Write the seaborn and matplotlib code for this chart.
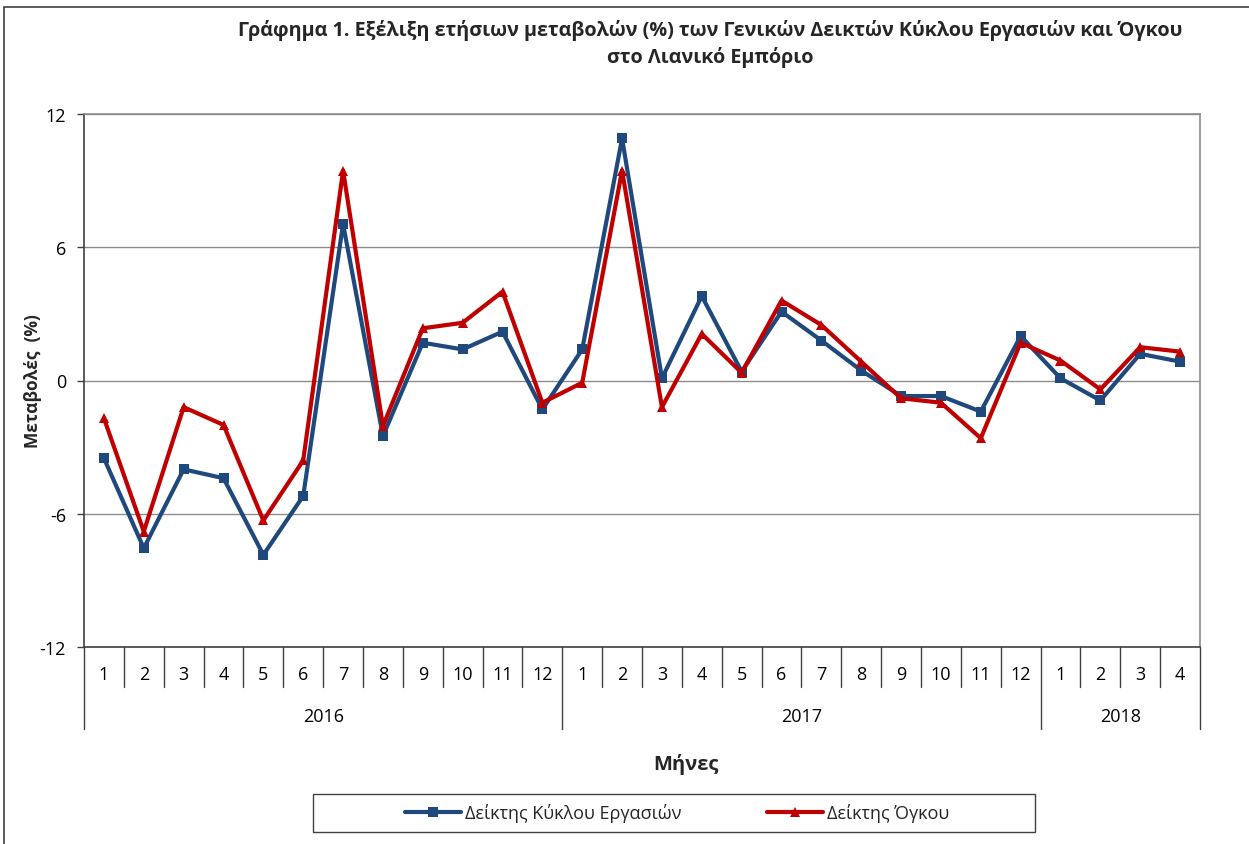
import numpy as np
import pandas as pd
import matplotlib
matplotlib.use("Agg")
import matplotlib.pyplot as plt
import seaborn as sns
from matplotlib.lines import Line2D
from matplotlib.patches import Rectangle

# ---------------- data ----------------
months = [1, 2, 3, 4, 5, 6, 7, 8, 9, 10, 11, 12,
          1, 2, 3, 4, 5, 6, 7, 8, 9, 10, 11, 12,
          1, 2, 3, 4]
years = ["2016", "2017", "2018"]
year_lengths = [12, 12, 4]
series_names = ["Δείκτης Κύκλου Εργασιών", "Δείκτης Όγκου"]
turnover = [-3.5, -7.55, -4.0, -4.4, -7.85, -5.2, 7.05, -2.5, 1.7, 1.4, 2.2, -1.3,
            1.4, 10.9, 0.1, 3.8, 0.4, 3.1, 1.8, 0.45, -0.7, -0.7, -1.4, 2.0,
            0.1, -0.9, 1.2, 0.85]
volume = [-1.7, -6.8, -1.2, -2.0, -6.3, -3.6, 9.45, -2.05, 2.35, 2.6, 4.0, -1.0,
          -0.1, 9.45, -1.2, 2.1, 0.35, 3.6, 2.5, 0.85, -0.8, -1.0, -2.6, 1.7,
          0.9, -0.4, 1.5, 1.3]
y_ticks = [-12, -6, 0, 6, 12]

title_text = ("Γράφημα 1. Εξέλιξη ετήσιων μεταβολών (%) των Γενικών Δεικτών Κύκλου Εργασιών και Όγκου\n"
              "στο Λιανικό Εμπόριο")
ylabel_text = "Μεταβολές  (%)"
xlabel_text = "Μήνες"

colors = {series_names[0]: "#1F497D", series_names[1]: "#C00000"}
markers = {series_names[0]: "s", series_names[1]: "^"}

# ---------------- style ----------------
sns.set_theme(style="white")
plt.rcParams["font.family"] = ["Open Sans", "DejaVu Sans"]

W, H = 1249, 845
fig = plt.figure(figsize=(W / 100, H / 100), dpi=100)
fig.patch.set_facecolor("white")

# outer frame
fig.add_artist(Rectangle((4 / W, -0.05), 1.2, 1 - 8 / H + 0.05,
                         transform=fig.transFigure, fill=False,
                         edgecolor="#404040", lw=1.2))

L, R, T, B = 84, 1200, 115, 648
ax = fig.add_axes([L / W, 1 - B / H, (R - L) / W, (B - T) / H])

n = len(months)
df = pd.DataFrame({
    "pos": np.tile(np.arange(n), 2),
    "value": turnover + volume,
    "series": np.repeat(series_names, n),
})

LW, MS = 3.0, 6.5
sns.lineplot(data=df, x="pos", y="value", hue="series", style="series",
             hue_order=series_names, style_order=series_names,
             palette=colors, markers=markers, dashes=False,
             linewidth=LW, markersize=MS, markeredgewidth=0,
             legend=False, ax=ax)

ax.set_xlim(-0.5, n - 0.5)
ax.set_ylim(-12, 12)
ax.set_yticks(y_ticks)
ax.set_yticklabels([str(t) for t in y_ticks], fontsize=13, color="black")
ax.set_xticks([])
ax.set_xlabel("")
ax.set_ylabel("")
ax.yaxis.grid(True, color="#8c8c8c", lw=1)
ax.set_axisbelow(True)
ax.tick_params(axis="y", direction="out", length=5, width=1, color="#404040",
               left=True, pad=8)
for s in ["left", "bottom"]:
    ax.spines[s].set_color("#404040")
    ax.spines[s].set_linewidth(1.2)
for s in ["top", "right"]:
    ax.spines[s].set_color("#8c8c8c")
    ax.spines[s].set_linewidth(1.2)

# hierarchical category axis
xt = ax.get_xaxis_transform()
month_sep_bottom = -(688 - B) / (B - T)
year_sep_bottom = -(730 - B) / (B - T)
month_label_y = -(675 - B) / (B - T)
year_label_y = -(717 - B) / (B - T)

year_bounds = [-0.5]
for yl in year_lengths:
    year_bounds.append(year_bounds[-1] + yl)

for b in np.arange(-0.5, n, 1.0):
    bottom = year_sep_bottom if any(abs(b - yb) < 1e-9 for yb in year_bounds) else month_sep_bottom
    ax.plot([b, b], [0, bottom], transform=xt, color="#404040", lw=1, clip_on=False)

for i, m in enumerate(months):
    ax.text(i, month_label_y, str(m), transform=xt, ha="center", va="center",
            fontsize=13, color="black")

for yr, y0, y1 in zip(years, year_bounds[:-1], year_bounds[1:]):
    ax.text((y0 + y1) / 2, year_label_y, yr, transform=xt, ha="center", va="center",
            fontsize=13, color="black")

# titles / labels
fig.text(710 / W, 1 - 44 / H, title_text, ha="center", va="center",
         fontsize=14.2, fontweight="bold", linespacing=1.42)
fig.text(33 / W, 1 - 381 / H, ylabel_text, ha="center", va="center",
         rotation=90, fontsize=12.5, fontweight="bold")
fig.text(686 / W, 1 - 765 / H, xlabel_text, ha="center", va="center",
         fontsize=14.5, fontweight="bold")

# legend
fig.add_artist(Rectangle((313 / W, 1 - 833 / H), (1035 - 313) / W, 38 / H,
                         transform=fig.transFigure, fill=False,
                         edgecolor="#404040", lw=1))
handles = [Line2D([], [], color=colors[s], marker=markers[s], lw=LW,
                  markersize=MS, markeredgewidth=0) for s in series_names]
fig.legend(handles, series_names, loc="center", ncol=2,
           bbox_to_anchor=(677 / W, 1 - 814 / H), frameon=False,
           fontsize=13, handlelength=3.1, handletextpad=0.25,
           columnspacing=4.7)

fig.savefig("out.png", dpi=100)
